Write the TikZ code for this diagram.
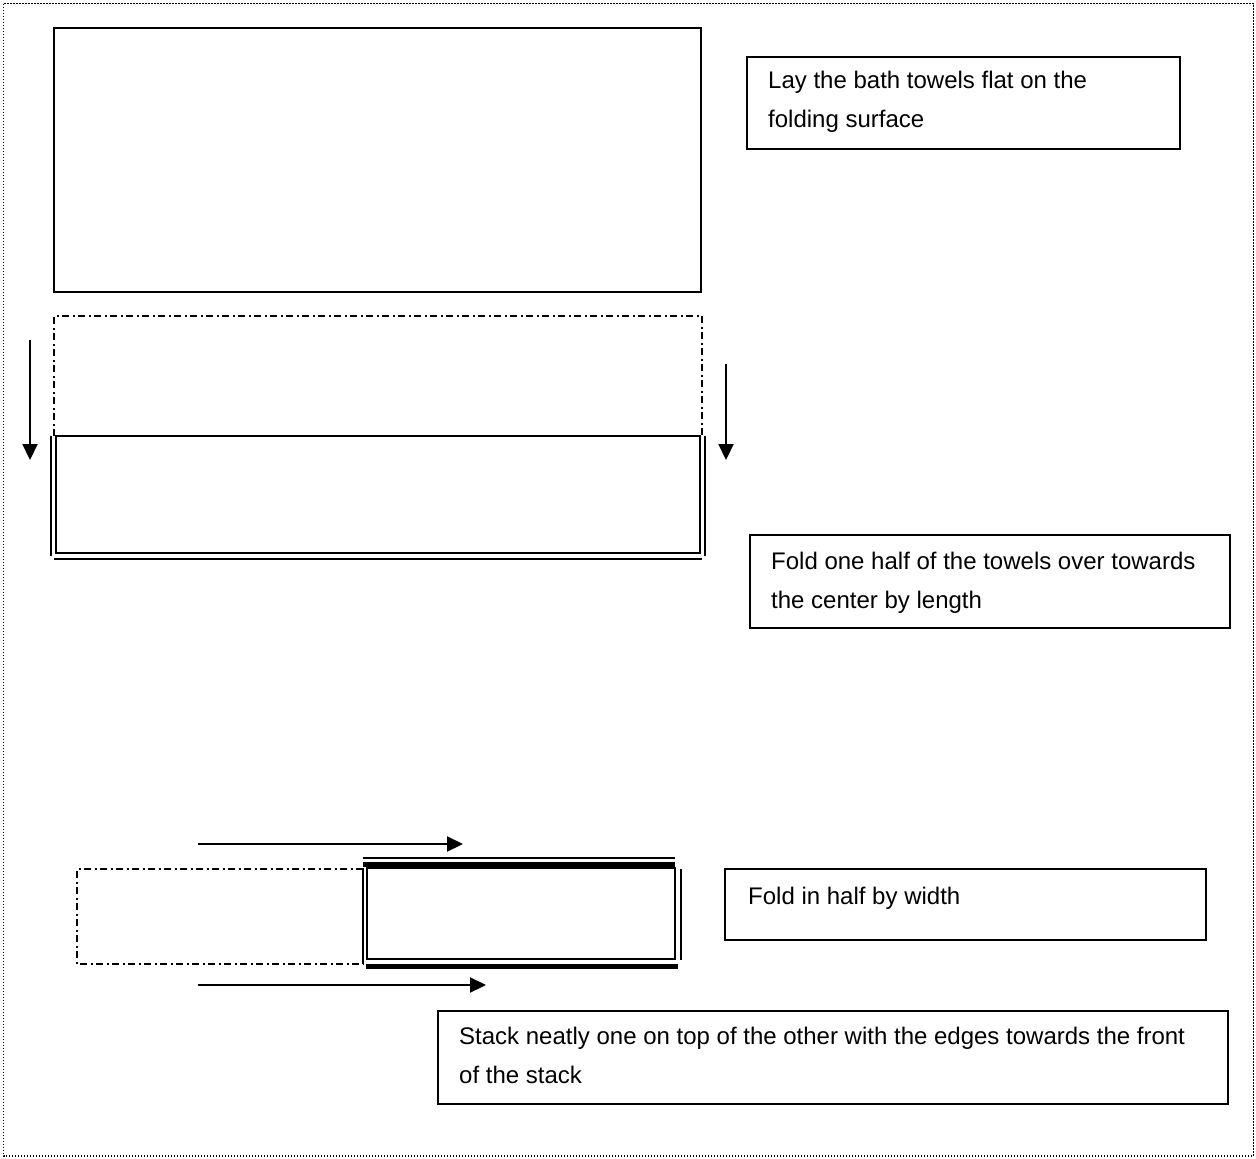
\documentclass[tikz,border=0pt]{standalone}
\usepackage{fontspec}
\setmainfont{Liberation Sans}
\usetikzlibrary{arrows.meta}
\begin{document}
\begin{tikzpicture}[x=1pt,y=-1pt,
  towel/.style={line width=2},
  foldline/.style={line width=1.8, dash pattern=on 7 off 3.5 on 2 off 3.5},
  thickedge/.style={line width=5.5},
  arr/.style={line width=2.2,-{Triangle[length=16,width=15]}},
  textbox/.style={draw,line width=1.6},
  txt/.style={anchor=base west,inner sep=0,align=left,font=\fontsize{24}{39}\selectfont},
  outer/.style={line width=1.3,dash pattern=on 1.2 off 1.8}]
\useasboundingbox (0,0) rectangle (1256,1159);
\draw[outer] (3.5,3.5) rectangle (1253.5,1156);

% step 1
\draw[towel] (54,28) rectangle (701,292);
\draw[textbox] (747,57) rectangle (1180,149);
\node[txt] (t1) at (768,127) {Lay the bath towels flat on the\\folding surface};

% step 2
\draw[foldline] (54,436) -- (54,316) -- (702,316) -- (702,436);
\draw[towel] (56,436) rectangle (700,553);
\draw[towel] (51,436) -- (51,556);
\draw[towel] (704.5,436) -- (704.5,556);
\draw[towel] (54,558.5) -- (702,558.5);
\coordinate (a1s) at (30,340); \coordinate (a1e) at (30,460);
\coordinate (a2s) at (726,364); \coordinate (a2e) at (726,460);
\draw[arr] (a1s) -- (a1e);
\draw[arr] (a2s) -- (a2e);
\draw[textbox] (750,535) rectangle (1230,628);
\node[txt] (t2) at (771,608) {Fold one half of the towels over towards\\the center by length};

% step 3
\draw[foldline] (363,869) -- (77,869) -- (77,964) -- (363,964);
\draw[towel] (367,868) rectangle (675,959);
\draw[towel] (363,868) -- (363,964);
\draw[towel] (680.5,869) -- (680.5,960);
\draw[thickedge] (363,864.5) -- (675,864.5);
\draw[towel] (363,857.5) -- (675,857.5);
\draw[thickedge] (366,966.5) -- (678,966.5);
\coordinate (a3s) at (198,844); \coordinate (a3e) at (463,844);
\draw[arr] (a3s) -- (a3e);
\draw[textbox] (725,869) rectangle (1206,940);
\node[txt] (t3) at (748,904) {Fold in half by width};

% step 4
\coordinate (a4s) at (198,985); \coordinate (a4e) at (486,985);
\draw[arr] (a4s) -- (a4e);
\draw[textbox] (438,1011) rectangle (1228,1104);
\node[txt] (t4) at (459,1083) {Stack neatly one on top of the other with the edges towards the front\\of the stack};
\end{tikzpicture}
\end{document}
